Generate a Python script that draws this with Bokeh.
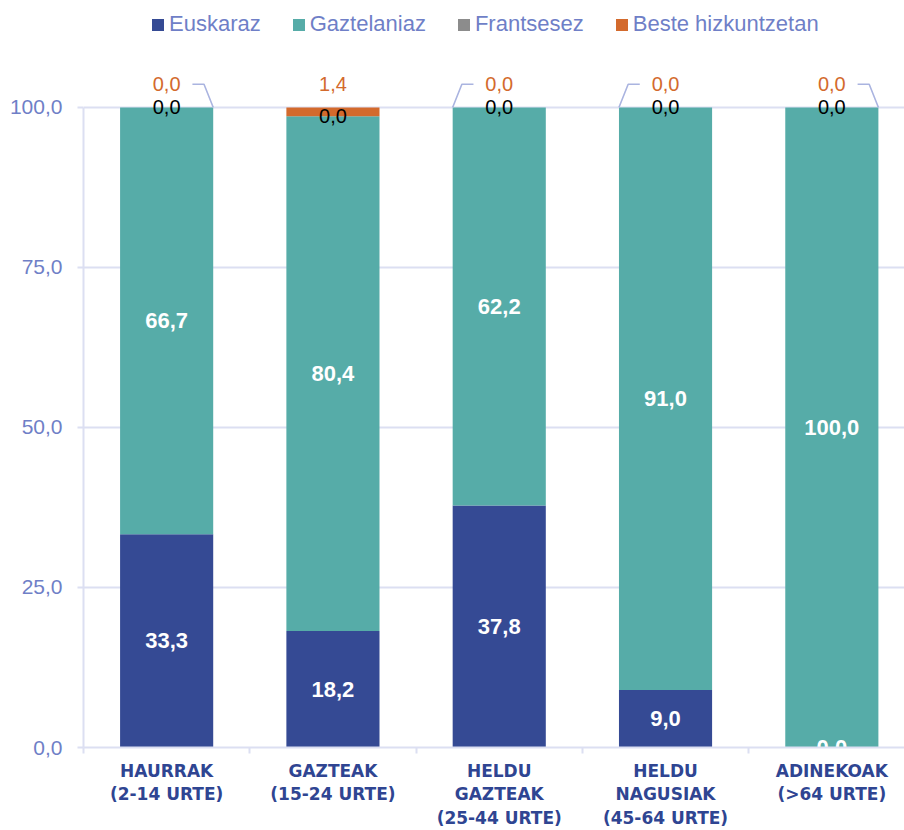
import numpy as np
from bokeh.plotting import figure
from bokeh.models import ColumnDataSource, Range1d, FixedTicker, Legend, LegendItem
from bokeh.core.properties import value
from bokeh.embed import file_html
from bokeh.resources import INLINE

# Age groups (x axis) and language shares (%)
groups = [
    "HAURRAK\n(2-14 URTE)",
    "GAZTEAK\n(15-24 URTE)",
    "HELDU\nGAZTEAK\n(25-44 URTE)",
    "HELDU\nNAGUSIAK\n(45-64 URTE)",
    "ADINEKOAK\n(>64 URTE)",
]
series_names = ["Euskaraz", "Gaztelaniaz", "Frantsesez", "Beste hizkuntzetan"]
euskaraz = [33.3, 18.2, 37.8, 9.0, 0.0]
gaztelaniaz = [66.7, 80.4, 62.2, 91.0, 100.0]
frantsesez = [0.0, 0.0, 0.0, 0.0, 0.0]
beste = [0.0, 1.4, 0.0, 0.0, 0.0]

y_ticks = [0, 25, 50, 75, 100]
y_tick_labels = ["0,0", "25,0", "50,0", "75,0", "100,0"]

# Styling
colors = ["#354a94", "#56aca8", "#8c8c8c", "#d36a2d"]
label_colors = ["white", "white", "black", "#d36a2d"]
label_styles = ["bold", "bold", "normal", "normal"]
label_sizes = ["22px", "22px", "20px", "20px"]
leader_side = [1, 0, -1, -1, 1]   # which side the leader of the outside label goes to
grid_color = "#dcdff2"
text_blue = "#6f7fc7"
axis_blue = "#2f4592"
BAR_W = 0.56

def fmt(v):
    return f"{v:.1f}".replace(".", ",")

series = [euskaraz, gaztelaniaz, frantsesez, beste]
xs = list(range(len(groups)))
src = ColumnDataSource(dict(x=xs, **{n: s for n, s in zip(series_names, series)}))

p = figure(width=904, height=830,
           x_range=Range1d(-0.5, 4.437), y_range=Range1d(0, 116.7),
           output_backend="svg", toolbar_location=None,
           min_border_left=83, min_border_right=0, min_border_top=0, min_border_bottom=81)
p.outline_line_color = None
p.background_fill_color = "white"

# gridlines
p.xgrid.grid_line_color = None
p.ygrid.ticker = FixedTicker(ticks=y_ticks)
p.ygrid.grid_line_color = grid_color
p.ygrid.grid_line_width = 2

renderers = p.vbar_stack(series_names, x="x", width=BAR_W, color=colors,
                         line_color=None, source=src)

# value labels
cum = np.zeros(len(groups))
totals = np.sum(np.array(series), axis=0)
for k, vals in enumerate(series):
    vals = np.array(vals)
    if k < 3:
        ys = cum + vals / 2
    else:
        ys = totals + 3.7
    p.text(x=xs, y=list(ys), text=[fmt(v) for v in vals],
           text_align="center", text_baseline="middle",
           text_font=value("Liberation Sans"), text_font_size=label_sizes[k],
           text_font_style=label_styles[k], text_color=label_colors[k])
    cum = cum + vals

# leader lines for the outside labels
lx, ly = [], []
for i, s in enumerate(leader_side):
    if s == 0:
        continue
    t = totals[i]
    lx.append([i + s * 0.155, i + s * 0.225, i + s * BAR_W / 2])
    ly.append([t + 3.6, t + 3.6, t])
p.multi_line(lx, ly, line_color="#aab4e0", line_width=1.5)

# x axis
xa = p.xaxis[0]
xa.ticker = FixedTicker(ticks=xs, minor_ticks=[-0.5, 0.5, 1.5, 2.5, 3.5, 4.5])
xa.major_label_overrides = {i: g for i, g in enumerate(groups)}
xa.major_tick_line_color = None
xa.major_tick_out = 0
xa.major_tick_in = 0
xa.minor_tick_line_color = grid_color
xa.minor_tick_line_width = 2
xa.minor_tick_out = 6
xa.minor_tick_in = 0
xa.axis_line_color = grid_color
xa.axis_line_width = 2
xa.major_label_standoff = 7
xa.major_label_text_font = "DejaVu Sans"
xa.major_label_text_font_style = "bold"
xa.major_label_text_font_size = "17px"
xa.major_label_text_color = axis_blue
xa.major_label_text_line_height = 1.18

# y axis
ya = p.yaxis[0]
ya.ticker = FixedTicker(ticks=y_ticks)
ya.major_label_overrides = {t: l for t, l in zip(y_ticks, y_tick_labels)}
ya.bounds = (0, 100)
ya.axis_line_color = grid_color
ya.axis_line_width = 2
ya.major_tick_line_color = grid_color
ya.major_tick_line_width = 2
ya.major_tick_out = 6
ya.major_tick_in = 0
ya.minor_tick_line_color = None
ya.major_label_standoff = 15
ya.major_label_text_font = "Liberation Sans"
ya.major_label_text_font_size = "21px"
ya.major_label_text_color = text_blue

legend = Legend(items=[LegendItem(label=n, renderers=[r]) for n, r in zip(series_names, renderers)],
                orientation="horizontal", location=(67, 710))
legend.glyph_width = 15
legend.glyph_height = 15
legend.label_standoff = 4
legend.spacing = 30
legend.padding = 0
legend.margin = 0
legend.border_line_color = None
legend.background_fill_alpha = 0
legend.label_text_font = "Liberation Sans"
legend.label_text_font_size = "22px"
legend.label_text_color = text_blue
p.add_layout(legend)

open("out.html", "w").write(file_html(p, INLINE))
